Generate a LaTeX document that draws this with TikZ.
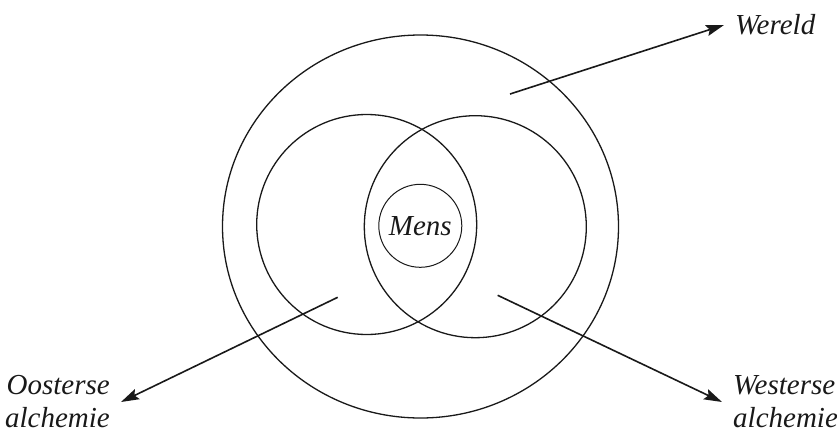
\documentclass[tikz,border=0pt]{standalone}
\usepackage{fontspec}
\setmainfont{Liberation Serif}
\usepackage{tikz}
\usetikzlibrary{shapes.geometric,arrows.meta}
\definecolor{inkt}{RGB}{25,25,25}

\begin{document}
\begin{tikzpicture}[x=1pt,y=-1pt,
    cirkel/.style = {draw=inkt, line width=1.3pt, inner sep=0pt},
    pijl/.style = {draw=inkt, line width=1.6pt, -{Stealth[length=18pt,width=11pt,inset=3pt]}},
    label/.style = {text=inkt, font=\itshape\fontsize{29}{33}\selectfont, inner sep=11pt}
    ]
    \useasboundingbox (0,0) rectangle (837,434);
    % de cirkels
    \node[cirkel, ellipse, minimum width=396, minimum height=383] (wereldcirkel) at (420.5,226.5) {};
    \node[cirkel, circle, minimum size=220] (oostcirkel) at (366.7,224.5) {};
    \node[cirkel, circle, minimum size=222] (westcirkel) at (475.3,226.7) {};
    \node[cirkel, circle, line width=1pt, minimum size=83, text=inkt,
          font=\itshape\fontsize{29}{33}\selectfont] (mens) at (420.3,225.8) {Mens};
    % labels
    \node[label, anchor=west] (wereld) at (724,25) {Wereld};
    \node[label, anchor=east, align=right] (oosters) at (121,402) {Oosterse\\alchemie};
    \node[label, anchor=west, align=left] (westers) at (722,402) {Westerse\\alchemie};
    % pijlen
    \coordinate (wereldstart) at (510,94);
    \coordinate (ooststart) at (337.7,297.3);
    \coordinate (weststart) at (497.7,295.3);
    \draw[pijl] (wereldstart) -- (wereld.west);
    \draw[pijl] (ooststart) -- (oosters.east);
    \draw[pijl] (weststart) -- (westers.west);
\end{tikzpicture}
\end{document}
